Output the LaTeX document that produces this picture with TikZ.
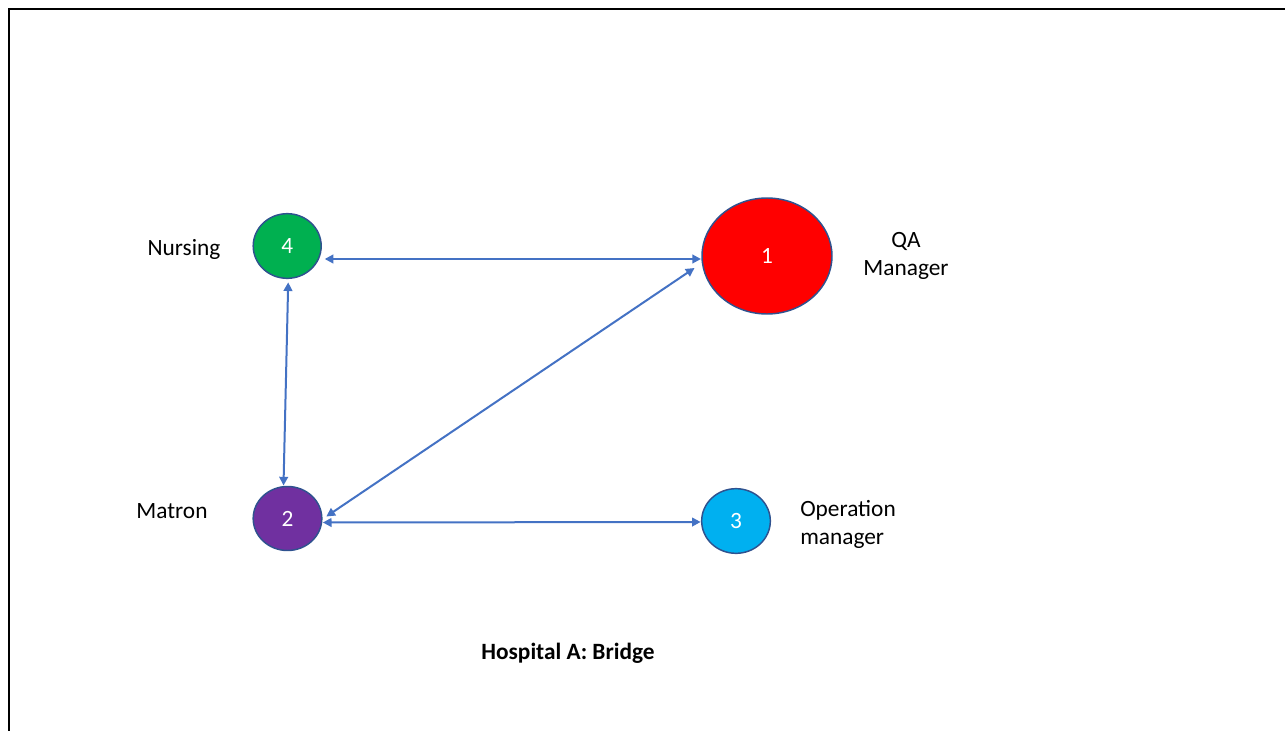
\documentclass[tikz,border=0pt]{standalone}
\usepackage{fontspec}
\setmainfont{Carlito}
\usetikzlibrary{shapes.geometric,arrows.meta}
\definecolor{nodeline}{HTML}{2F528F}
\definecolor{linkblue}{HTML}{4472C4}
\definecolor{qared}{HTML}{FF0000}
\definecolor{nursegreen}{HTML}{00B050}
\definecolor{matronpurple}{HTML}{7030A0}
\definecolor{opblue}{HTML}{00B0F0}
\begin{document}
\begin{tikzpicture}[x=0.75pt,y=-0.75pt,
  every node/.style={font=\fontsize{17.5}{21}\selectfont},
  actor/.style={ellipse,draw=nodeline,line width=1.1pt,text=white,inner sep=0pt,outer sep=0pt},
  link/.style={draw=linkblue,line width=1.5pt,
    {Triangle[length=6.5pt,width=6.5pt]}-{Triangle[length=6.5pt,width=6.5pt]}},
  role/.style={text=black,inner sep=0pt}]
\useasboundingbox (0,0) rectangle (1285,731);
% frame
\draw[line width=1.5pt] (9,731) -- (9,9) -- (1285,9);

% actors
\node[actor,fill=qared,minimum width=97.5pt,minimum height=87pt] (n1) at (767,256) {1};
\node[actor,fill=matronpurple,minimum width=51.5pt,minimum height=48pt] (n2) at (287.5,518.5) {2};
\node[actor,fill=opblue,minimum width=51.5pt,minimum height=48.5pt] (n3) at (736,521) {3};
\node[actor,fill=nursegreen,minimum width=51pt,minimum height=48.5pt] (n4) at (287.2,246) {4};

% roles
\node[role] (l4) at (184,249) {Nursing};
\node[role,align=center] (l1) at (906,256) {QA\\Manager};
\node[role] (l2) at (172,511) {Matron};
\node[role,align=left,anchor=west] (l3) at (800,524) {Operation\\manager};
\node[role,font=\fontsize{17.5}{21}\selectfont\bfseries] (title) at (568,653) {Hospital A: Bridge};

% links
\draw[link] ([shift={(3.5,13)}]n4.east) -- ([shift={(-1,3)}]n1.west);
\draw[link] ([shift={(1,4)}]n4.south) -- ([shift={(-4,-1)}]n2.north);
\draw[link] ([shift={(4.5,-2)}]n2.east) -- ([shift={(-7.5,12)}]n1.west);
\draw[link] ([shift={(1,4)}]n2.east) -- ([shift={(-1,1)}]n3.west);
\end{tikzpicture}
\end{document}
